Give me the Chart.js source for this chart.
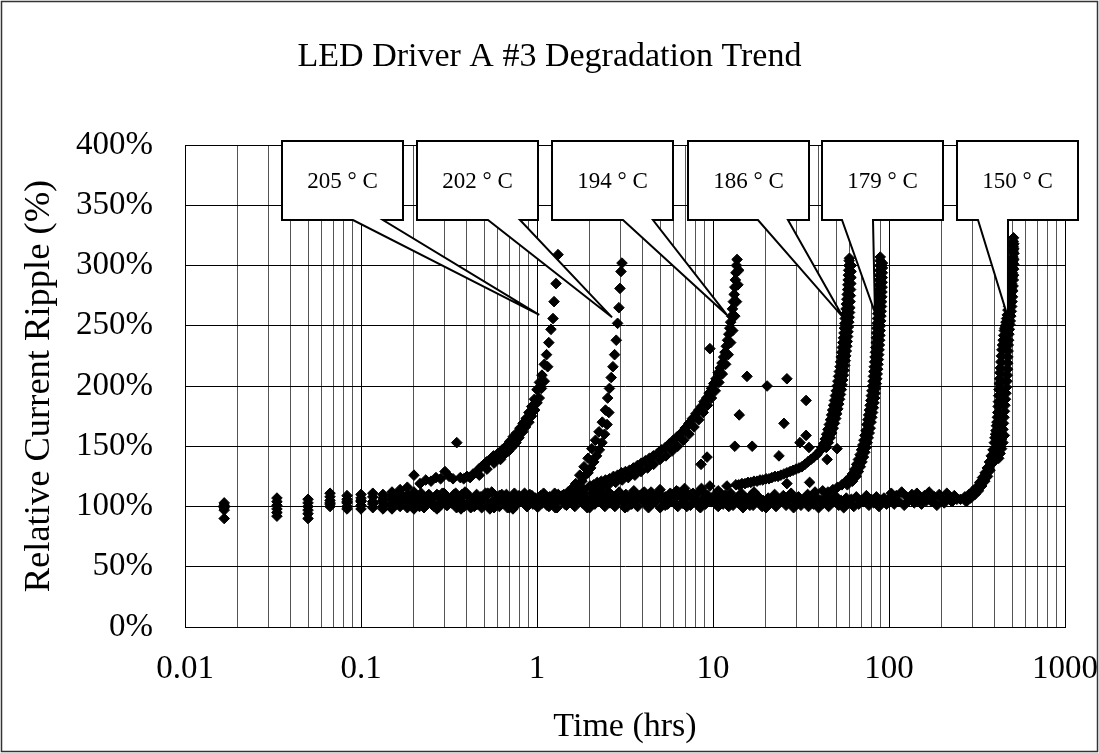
<!DOCTYPE html>
<html>
<head>
<meta charset="utf-8">
<title>LED Driver A #3 Degradation Trend</title>
<script src="https://cdn.jsdelivr.net/npm/chart.js@4.4.0/dist/chart.umd.min.js"></script>
<style>
  html, body { margin: 0; padding: 0; background: #fff; }
  #wrap { width: 1099px; height: 753px; }
</style>
</head>
<body>
<div id="wrap"><canvas id="rippleChart" width="1099" height="753"></canvas></div>
<script>
// data: [time (hrs), relative current ripple (%)]
var ripple205 = [
  [0.0167, 90], [0.0333, 92], [0.05, 94], [0.0667, 100], [0.0833, 98], [0.1, 98],
  [0.1167, 104], [0.1333, 110], [0.15, 112], [0.1667, 114], [0.1833, 116], [0.2, 126],
  [0.2167, 119], [0.2333, 122], [0.25, 121], [0.2667, 124], [0.2833, 123], [0.3, 129],
  [0.3167, 125], [0.3333, 123], [0.35, 153], [0.3667, 124], [0.3833, 123], [0.4, 125],
  [0.4167, 124], [0.4333, 127], [0.45, 128], [0.4667, 131], [0.4833, 133], [0.5, 135],
  [0.5167, 137], [0.5333, 138], [0.55, 140], [0.5667, 142], [0.5833, 141], [0.6, 144],
  [0.6333, 147], [0.6667, 150], [0.7, 154], [0.7333, 158], [0.7667, 161], [0.8, 165],
  [0.8333, 169], [0.8667, 173], [0.9, 178], [0.9333, 183], [0.9667, 189], [1.0, 197],
  [1.033, 203], [1.067, 209], [1.1, 218], [1.133, 226], [1.167, 236], [1.2, 247],
  [1.233, 256], [1.25, 270], [1.283, 285], [1.317, 309],
  [0.47, 126], [0.52, 131], [0.57, 136], [0.62, 139], [0.65, 143], [0.69, 146],
  [0.72, 149], [0.76, 153], [0.79, 157], [0.83, 162], [0.86, 166], [0.9, 170],
  [0.93, 175], [0.97, 180], [1.0, 186], [1.03, 190], [1.06, 198], [1.1, 204], [1.15, 216]
];

var ripple202 = [
  [0.0167, 97], [0.0333, 95], [0.05, 97], [0.0667, 103], [0.0833, 100], [0.1, 101],
  [0.1167, 99], [0.1333, 103], [0.15, 106], [0.1667, 100], [0.1833, 104], [0.2, 108],
  [0.22, 102], [0.245, 109], [0.275, 99], [0.31, 106], [0.345, 111], [0.385, 100],
  [0.43, 104], [0.48, 108], [0.54, 98], [0.6, 105], [0.67, 110], [0.75, 101],
  [0.84, 107], [0.94, 103], [1.05, 109], [1.17, 100], [1.3, 105], [1.42, 110],
  [1.5, 112], [1.58, 115], [1.66, 119], [1.75, 126], [1.85, 133],
  [1.95, 140], [2.05, 148], [2.15, 155], [2.25, 162],
  [2.35, 170], [2.45, 180], [2.52, 190], [2.58, 198], [2.64, 207],
  [2.7, 216], [2.76, 226], [2.82, 238], [2.87, 252], [2.92, 265], [2.96, 281],
  [3.0, 295], [3.04, 302],
  [1.62, 112], [1.7, 116], [1.8, 121], [1.88, 126], [1.95, 128], [2.02, 132],
  [2.1, 137], [2.18, 142], [2.26, 147], [2.34, 153], [2.42, 160], [2.5, 168], [2.56, 178]
];

var ripple194 = [
  [0.0167, 100], [0.0333, 104], [0.05, 100], [0.0667, 108], [0.0833, 106], [0.1, 107],
  [0.1167, 102], [0.1333, 98], [0.15, 101], [0.1667, 107], [0.1833, 99], [0.2, 103],
  [0.23, 107], [0.26, 100], [0.29, 111], [0.33, 104], [0.37, 98], [0.41, 108],
  [0.46, 102], [0.51, 111], [0.57, 99], [0.64, 106], [0.71, 103], [0.79, 109],
  [0.88, 100], [0.98, 107], [1.09, 111], [1.21, 102], [1.35, 108], [1.5, 104],
  [1.67, 110], [1.85, 114],
  [2.0, 117], [2.1, 118], [2.2, 120], [2.32, 121], [2.45, 122], [2.58, 123],
  [2.72, 125], [2.87, 126], [3.02, 128], [3.18, 129], [3.35, 130], [3.53, 132],
  [3.72, 134], [3.92, 136], [4.13, 138], [4.35, 140], [4.58, 142], [4.83, 144],
  [5.09, 147], [5.36, 149], [5.65, 152], [5.95, 155], [6.27, 158], [6.6, 161],
  [6.95, 165], [7.3, 169], [7.65, 173], [8.0, 177], [8.3, 180], [8.6, 183],
  [8.9, 187], [9.2, 190], [9.5, 194], [9.8, 198], [10.1, 202], [10.4, 206],
  [10.7, 211], [11.0, 215], [11.25, 219], [11.5, 224], [11.7, 228], [11.9, 233],
  [12.1, 238], [12.3, 243], [12.45, 248], [12.6, 253], [12.75, 258], [12.9, 264],
  [13.05, 270], [13.2, 276], [13.3, 282], [13.4, 288], [13.5, 294], [13.6, 300], [13.7, 305],
  [2.15, 113], [2.35, 116], [2.55, 118], [2.8, 120], [3.05, 122], [3.3, 124],
  [3.6, 126], [3.9, 129], [4.25, 132], [4.6, 135], [5.0, 139], [5.4, 142],
  [5.85, 146], [6.3, 150], [6.8, 155], [7.3, 160], [7.8, 166], [8.3, 172],
  [8.8, 178], [9.3, 184], [9.8, 190], [10.3, 196], [10.8, 203], [11.3, 210],
  [11.8, 218], [12.2, 226], [12.6, 236], [12.95, 246], [13.3, 258], [13.6, 270],
  [13.85, 284], [14.0, 296]
];

var ripple186 = [
  [0.0167, 103], [0.0333, 107], [0.05, 103], [0.0667, 111], [0.0833, 109], [0.1, 110],
  [0.1167, 108], [0.1333, 105], [0.15, 109], [0.1667, 103], [0.1833, 110], [0.2, 98],
  [0.24, 104], [0.27, 110], [0.31, 101], [0.35, 107], [0.39, 112], [0.44, 100],
  [0.49, 106], [0.55, 103], [0.61, 109], [0.68, 99], [0.76, 105], [0.85, 111],
  [0.95, 102], [1.06, 108], [1.18, 104], [1.32, 110], [1.47, 101], [1.64, 107],
  [1.83, 111], [2.04, 103], [2.28, 109], [2.55, 112], [2.85, 105], [3.2, 110],
  [3.55, 113], [4.0, 107], [4.45, 112], [5.0, 114], [5.6, 109], [6.2, 113],
  [6.9, 115], [7.7, 111], [8.6, 115], [9.6, 117], [10.7, 113], [12.0, 117],
  [13.5, 118], [14.0, 118], [14.6, 119], [15.2, 119], [15.8, 120], [16.4, 120],
  [17.1, 121], [17.8, 121], [18.5, 122], [19.2, 122], [20.0, 123], [20.8, 123],
  [21.6, 124], [22.5, 125], [23.4, 125], [24.3, 126], [25.3, 127], [26.3, 128],
  [27.4, 129], [28.5, 130], [29.6, 131], [30.8, 132], [32.0, 133], [33.3, 135],
  [34.6, 137], [36.0, 139], [37.4, 141], [38.9, 143], [40.4, 146],
  [41.5, 149], [42.5, 152], [43.4, 156], [44.2, 160], [45.0, 164], [45.8, 168],
  [46.5, 172], [47.2, 176], [47.8, 180], [48.4, 184], [49.0, 188], [49.6, 192],
  [50.2, 196], [50.7, 200], [51.2, 204], [51.7, 208], [52.2, 212], [52.7, 216],
  [53.1, 220], [53.5, 224], [53.9, 228], [54.3, 232], [54.7, 236], [55.1, 240],
  [55.5, 244], [55.8, 248], [56.1, 252], [56.4, 256], [56.7, 260], [57.0, 264],
  [57.3, 268], [57.6, 272], [57.9, 276], [58.2, 280], [58.4, 284], [58.6, 288],
  [58.8, 292], [59.0, 296], [59.2, 300], [59.4, 304], [59.6, 306],
  [44.0, 149], [45.2, 153], [46.3, 157], [47.3, 161], [48.2, 165], [49.0, 169],
  [49.8, 173], [50.5, 177], [51.2, 181], [51.8, 185], [52.4, 189], [53.0, 193],
  [53.6, 197], [54.1, 201], [54.6, 205], [55.1, 209], [55.6, 213], [56.0, 217],
  [56.4, 221], [56.8, 225], [57.2, 229], [57.6, 233], [57.9, 237], [58.2, 241],
  [58.5, 245], [58.8, 249], [59.1, 253], [59.4, 257], [59.7, 261], [59.9, 265],
  [60.1, 270], [60.3, 275], [60.5, 280], [60.7, 285], [60.8, 290], [60.9, 295], [61.0, 300],
  [8.55, 135], [9.25, 141], [9.6, 231], [13.3, 150], [14.1, 176], [15.6, 208],
  [16.7, 150], [20.3, 200], [23.7, 142], [25.3, 169], [26.3, 206], [26.3, 119],
  [31.2, 153], [33.8, 188], [33.8, 159], [35.1, 149], [35.4, 120], [44.5, 139], [50.7, 148]
];

var ripple179 = [
  [0.0167, 101], [0.0333, 101], [0.05, 106], [0.0667, 105], [0.0833, 103], [0.1, 104],
  [0.1167, 111], [0.1333, 100], [0.15, 103], [0.1667, 111], [0.1833, 107], [0.2, 112],
  [0.215, 100], [0.24, 106], [0.27, 98], [0.3, 109], [0.335, 103], [0.375, 110],
  [0.42, 99], [0.47, 105], [0.525, 111], [0.585, 101], [0.655, 108], [0.73, 98],
  [0.815, 104], [0.91, 110], [1.02, 100], [1.14, 106], [1.27, 99], [1.42, 109],
  [1.59, 102], [1.78, 108], [1.99, 99], [2.22, 105], [2.48, 110], [2.77, 100],
  [3.1, 107], [3.45, 102], [3.85, 109], [4.3, 99], [4.8, 106], [5.35, 101],
  [6.0, 108], [6.7, 103], [7.5, 110], [8.35, 100], [9.3, 107], [10.4, 102],
  [11.6, 109], [13.0, 104], [14.5, 111], [16.2, 101], [18.0, 108], [20.1, 103],
  [22.4, 110], [25.0, 105], [27.8, 111], [31.0, 106], [34.5, 110], [38.0, 112],
  [42.0, 113],
  [2.1, 111], [2.35, 103], [2.62, 107], [2.93, 112], [3.27, 100], [3.65, 105],
  [4.07, 112], [4.55, 103], [5.07, 109], [5.67, 104], [6.35, 112], [7.1, 100],
  [7.9, 106], [8.82, 112], [9.85, 104], [11.0, 111], [12.3, 100], [13.7, 107],
  [15.3, 104], [17.1, 112], [19.0, 100],
  [45.0, 112], [48.0, 114], [51.0, 116], [54.0, 118], [57.0, 121], [60.0, 124],
  [62.0, 127], [64.0, 131], [65.5, 135], [67.0, 139], [68.5, 143], [69.8, 147],
  [71.0, 151], [72.0, 155], [73.0, 159], [74.0, 163], [75.0, 168], [75.8, 172],
  [76.6, 176], [77.4, 180], [78.1, 184], [78.8, 188], [79.4, 192], [80.0, 196],
  [80.6, 200], [81.1, 204], [81.6, 208], [82.1, 212], [82.5, 216], [82.9, 220],
  [83.3, 224], [83.7, 228], [84.1, 232], [84.5, 236], [84.8, 240], [85.1, 244],
  [85.4, 248], [85.7, 252], [86.0, 256], [86.3, 260], [86.6, 264], [86.9, 268],
  [87.2, 272], [87.5, 276], [87.8, 280], [88.0, 284], [88.2, 288], [88.4, 292],
  [88.6, 296], [88.8, 300], [89.0, 304], [89.2, 307],
  [58.0, 118], [62.0, 121], [65.0, 125], [67.0, 129], [68.7, 133], [70.2, 137],
  [71.6, 141], [72.9, 145], [74.1, 149], [75.2, 153], [76.2, 157], [77.2, 161],
  [78.2, 165], [79.1, 170], [79.9, 174], [80.7, 178], [81.5, 182], [82.2, 186],
  [82.9, 190], [83.5, 194], [84.1, 198], [84.7, 202], [85.2, 206], [85.7, 210],
  [86.2, 214], [86.6, 218], [87.0, 222], [87.4, 226], [87.8, 230], [88.2, 234],
  [88.5, 238], [88.8, 242], [89.1, 246], [89.4, 250], [89.7, 254], [90.0, 258],
  [90.3, 262], [90.6, 266], [90.8, 270], [91.0, 274], [91.2, 278], [91.4, 282],
  [91.5, 286], [91.6, 290], [91.7, 294], [91.8, 298], [91.8, 302]
];

var ripple150 = [
  [0.0167, 99], [0.0333, 98], [0.05, 90], [0.0667, 102], [0.0833, 104], [0.1, 105],
  [0.1167, 104], [0.1333, 107], [0.15, 98], [0.1667, 105], [0.1833, 101],
  // long flat stretch, 0.2 - 250 hrs
  [0.2, 101], [0.206, 108], [0.213, 104], [0.22, 111], [0.228, 99], [0.235, 106],
  [0.243, 110], [0.251, 102], [0.26, 107], [0.268, 100], [0.277, 109], [0.287, 104],
  [0.296, 111], [0.306, 101], [0.316, 106], [0.327, 103], [0.338, 110], [0.349, 99],
  [0.361, 105], [0.373, 108], [0.385, 102], [0.398, 111], [0.411, 104], [0.425, 100],
  [0.439, 107], [0.454, 110], [0.469, 103], [0.485, 99], [0.501, 106], [0.518, 109],
  [0.535, 101], [0.553, 112], [0.572, 104], [0.591, 107], [0.611, 100], [0.631, 110],
  [0.652, 103], [0.674, 108], [0.696, 99], [0.72, 105], [0.744, 111], [0.769, 102],
  [0.794, 107], [0.821, 104], [0.848, 110], [0.877, 100], [0.906, 106], [0.936, 109],
  [0.968, 103],
  [1.0, 100], [1.03, 107], [1.07, 103], [1.1, 110], [1.14, 101], [1.18, 108],
  [1.22, 105], [1.26, 111], [1.3, 99], [1.35, 106], [1.39, 109], [1.44, 102],
  [1.48, 107], [1.53, 104], [1.59, 111], [1.64, 100], [1.69, 106], [1.75, 110],
  [1.81, 103], [1.87, 108], [1.93, 99], [2.0, 105], [2.06, 111], [2.13, 102],
  [2.2, 108], [2.28, 104], [2.35, 110], [2.43, 100], [2.51, 107], [2.6, 103],
  [2.68, 109], [2.77, 101], [2.87, 106], [2.96, 111], [3.06, 104], [3.16, 99],
  [3.27, 108], [3.38, 102], [3.49, 110], [3.61, 105], [3.73, 100], [3.85, 107],
  [3.98, 111], [4.11, 103], [4.25, 109], [4.39, 101], [4.54, 106], [4.69, 104],
  [4.85, 110], [5.01, 99], [5.18, 105], [5.35, 108], [5.53, 102], [5.72, 111],
  [5.91, 104], [6.11, 107], [6.31, 100], [6.52, 109], [6.74, 103], [6.96, 106],
  [7.2, 110], [7.44, 101], [7.69, 108], [7.94, 104], [8.21, 111], [8.48, 99],
  [8.77, 106], [9.06, 102], [9.36, 109], [9.68, 105],
  [10, 104], [10.3, 110], [10.7, 100], [11, 107], [11.4, 102], [11.8, 109],
  [12.2, 105], [12.6, 111], [13, 101], [13.5, 106], [13.9, 103], [14.4, 110],
  [14.8, 99], [15.3, 107], [15.9, 104], [16.4, 109], [16.9, 101], [17.5, 106],
  [18.1, 108], [18.7, 102], [19.3, 105], [20, 99], [20.6, 107], [21.3, 103],
  [22, 108], [22.8, 100], [23.5, 106], [24.3, 104], [25.1, 109], [26, 101],
  [26.8, 105], [27.7, 107], [28.7, 99], [29.6, 103], [30.6, 108], [31.6, 101],
  [32.7, 106], [33.8, 104], [34.9, 100], [36.1, 107], [37.3, 102], [38.5, 108],
  [39.8, 99], [41.1, 105], [42.5, 103], [43.9, 107], [45.4, 100], [46.9, 106],
  [48.5, 104], [50.1, 108], [51.8, 101], [53.5, 105], [55.3, 99], [57.2, 107],
  [59.1, 103], [61.1, 106], [63.1, 100], [65.2, 108], [67.4, 102], [69.6, 105],
  [72, 104], [74.4, 109], [76.9, 101], [79.4, 106], [82.1, 103], [84.8, 108],
  [87.7, 100], [90.6, 105], [93.6, 107], [96.8, 102],
  [100, 106], [103, 111], [107, 102], [110, 109], [114, 104], [118, 112],
  [122, 101], [126, 108], [130, 105], [135, 110], [139, 103], [144, 111],
  [148, 107], [153, 102], [159, 109], [164, 105], [169, 112], [175, 104],
  [181, 108], [187, 101], [193, 110], [200, 106], [206, 103], [213, 111],
  [220, 107], [228, 104], [235, 109], [243, 106],
  // rise
  [255, 106], [270, 108], [285, 110], [300, 113], [315, 116], [328, 120],
  [340, 124], [352, 128], [362, 132], [372, 137], [381, 142], [390, 147], [397, 153],
  [403, 160], [408, 167], [413, 174], [417, 183], [420, 192], [423, 202], [427, 211],
  [432, 220], [438, 230], [445, 238], [452, 246], [458, 250], [466, 256], [474, 263],
  [482, 270], [490, 277], [497, 285], [502, 294], [505, 303], [507, 312], [508, 320],
  [400, 157], [405.5, 163], [410.5, 170], [415, 178], [418.5, 187], [421.5, 197],
  [425, 206], [429.5, 215], [435, 225], [441.5, 234], [448.5, 242], [455, 248],
  [462, 253], [470, 259], [478, 266], [486, 273], [493.5, 281], [499.5, 290],
  [503.5, 298], [506, 307], [507.5, 316],
  [275, 104], [292, 107], [308, 110], [322, 113], [336, 117], [350, 121],
  [363, 125], [375, 130], [388, 136], [400, 141], [412, 146], [425, 150], [436, 156],
  [444, 164], [450, 174], [456, 184], [462, 194], [468, 204], [472, 214], [474, 224],
  [476, 234], [480, 243], [486, 251], [492, 258], [498, 266], [503, 274], [507, 283],
  [510, 292], [512, 301], [513, 310], [512, 318], [510, 323],
  [430.5, 153], [440, 160], [447, 169], [453, 179], [459, 189], [465, 199],
  [470, 209], [473, 219], [475, 229], [478, 238], [483, 247], [489, 254],
  [495, 262], [500.5, 270], [505, 279], [508.5, 288], [511, 297], [512.5, 305], [512.5, 314],
  [420, 140], [428, 144], [436, 148], [444, 153], [452, 159]
];

var seriesNames = ['205 ° C', '202 ° C', '194 ° C', '186 ° C', '179 ° C', '150 ° C'];
var seriesData = [ripple205, ripple202, ripple194, ripple186, ripple179, ripple150];

// axis ticks
var xDecades = [0.01, 0.1, 1, 10, 100, 1000];
var xDecadeLabels = ['0.01', '0.1', '1', '10', '100', '1000'];
var yTickStep = 50;

// callout labels and the point each one points at (time, ripple)
var calloutLabels = ['205 ° C', '202 ° C', '194 ° C', '186 ° C', '179 ° C', '150 ° C'];
var calloutTime = [1.03, 2.67, 12.0, 54.8, 83.2, 474];
var calloutRipple = [259, 257, 259, 257, 261, 257];

// minor log grid: 1..9 in every decade
var xGridValues = [];
xDecades.forEach(function (d, i) {
    var last = i === xDecades.length - 1 ? 1 : 9;
    for (var m = 1; m <= last; m++) {
        xGridValues.push(Number((m * d).toPrecision(3)));
    }
});

function decadeIndex(v) {
    for (var i = 0; i < xDecades.length; i++) {
        if (Math.abs(v / xDecades[i] - 1) < 1e-6) return i;
    }
    return -1;
}

var serif = "'Liberation Serif', 'Times New Roman', serif";

// callout boxes (white boxes with a wedge to the curve)
var calloutPlugin = {
    id: 'callouts',
    afterDatasetsDraw: function (chart) {
        var ctx = chart.ctx;
        var xs = chart.scales.x;
        var ys = chart.scales.y;
        var boxLeft = [282, 417, 552, 688, 822, 957];
        var wedge = [[71, 101], [71, 103], [71, 101], [70, 100], [20, 51], [21, 51]];
        var boxW = 121, boxTop = 141, boxBottom = 220;
        ctx.save();
        ctx.lineWidth = 2;
        ctx.strokeStyle = '#000';
        ctx.lineJoin = 'miter';
        for (var i = 0; i < calloutLabels.length; i++) {
            var l = boxLeft[i], r = l + boxW;
            var ax = xs.getPixelForValue(calloutTime[i]);
            var ay = ys.getPixelForValue(calloutRipple[i]);
            ctx.beginPath();
            ctx.moveTo(l, boxTop);
            ctx.lineTo(r, boxTop);
            ctx.lineTo(r, boxBottom);
            ctx.lineTo(l + wedge[i][1], boxBottom);
            ctx.lineTo(ax, ay);
            ctx.lineTo(l + wedge[i][0], boxBottom);
            ctx.lineTo(l, boxBottom);
            ctx.closePath();
            ctx.fillStyle = '#fff';
            ctx.fill();
            ctx.stroke();
            ctx.fillStyle = '#000';
            ctx.font = '23px ' + serif;
            ctx.textAlign = 'center';
            ctx.textBaseline = 'middle';
            ctx.fillText(calloutLabels[i], (l + r) / 2, 182);
        }
        ctx.restore();
    }
};

// white background and outer frame
var framePlugin = {
    id: 'frame',
    beforeDraw: function (chart) {
        var ctx = chart.ctx;
        ctx.save();
        ctx.fillStyle = '#fff';
        ctx.fillRect(0, 0, chart.width, chart.height);
        ctx.restore();
    },
    afterDraw: function (chart) {
        var ctx = chart.ctx;
        ctx.save();
        ctx.strokeStyle = '#333';
        ctx.lineWidth = 1.5;
        ctx.strokeRect(1.5, 1.5, chart.width - 3, chart.height - 3);
        ctx.restore();
    }
};

document.addEventListener('DOMContentLoaded', function () {
    var ctx = document.getElementById('rippleChart').getContext('2d');

    var datasets = seriesData.map(function (arr, i) {
        return {
            label: seriesNames[i],
            data: arr.map(function (p) { return { x: p[0], y: p[1] }; }),
            pointStyle: 'rectRot',
            pointRadius: 5.3,
            pointHoverRadius: 5.3,
            backgroundColor: '#000',
            borderColor: '#000',
            borderWidth: 1,
            showLine: false
        };
    });

    new Chart(ctx, {
        type: 'scatter',
        data: { datasets: datasets },
        options: {
            responsive: false,
            animation: false,
            devicePixelRatio: 1,
            layout: { padding: 0 },
            plugins: {
                legend: { display: false },
                tooltip: { enabled: false },
                title: {
                    display: true,
                    text: 'LED Driver A #3 Degradation Trend',
                    color: '#000',
                    font: { family: serif, size: 34, weight: 'normal' },
                    padding: { top: 36.6, bottom: 67.6 }
                }
            },
            scales: {
                x: {
                    type: 'logarithmic',
                    min: 0.01,
                    max: 1000,
                    afterBuildTicks: function (scale) {
                        scale.ticks = xGridValues.map(function (v) { return { value: v }; });
                    },
                    afterFit: function (scale) {
                        scale.height = 126;
                        scale.paddingLeft = 0;
                        scale.paddingRight = 34;
                    },
                    border: { display: true, color: '#000', width: 1 },
                    grid: {
                        drawTicks: false,
                        color: function (c) {
                            return c.tick && decadeIndex(c.tick.value) >= 0 ? '#000' : '#555';
                        },
                        lineWidth: 1
                    },
                    ticks: {
                        autoSkip: false,
                        maxRotation: 0,
                        padding: 23,
                        color: '#000',
                        font: { family: serif, size: 33 },
                        callback: function (value) {
                            var k = decadeIndex(value);
                            return k >= 0 ? xDecadeLabels[k] : '';
                        }
                    },
                    title: {
                        display: true,
                        text: 'Time (hrs)',
                        color: '#000',
                        font: { family: serif, size: 34 },
                        padding: { top: 0, bottom: 5.6 }
                    }
                },
                y: {
                    min: 0,
                    max: 400,
                    afterFit: function (scale) { scale.width = 185; },
                    border: { display: true, color: '#000', width: 1 },
                    grid: { drawTicks: false, color: '#000', lineWidth: 1 },
                    ticks: {
                        stepSize: yTickStep,
                        padding: 32,
                        color: '#000',
                        font: { family: serif, size: 33 },
                        callback: function (value) { return value + '%'; }
                    },
                    title: {
                        display: true,
                        text: 'Relative Current Ripple (%)',
                        color: '#000',
                        font: { family: serif, size: 36.5 },
                        padding: { top: 18, bottom: 0 }
                    }
                }
            }
        },
        plugins: [framePlugin, calloutPlugin]
    });
});
</script>
</body>
</html>
